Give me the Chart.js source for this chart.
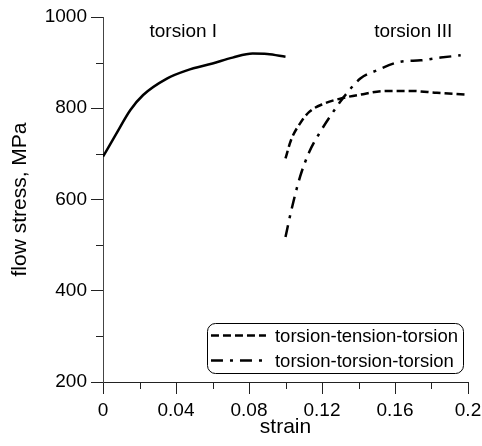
<!DOCTYPE html>
<html>
<head>
<meta charset="utf-8">
<script src="https://cdn.jsdelivr.net/npm/chart.js@4/dist/chart.umd.min.js"></script>
<style>
  body { margin: 0; background: #fff; }
  canvas { display: block; }
</style>
</head>
<body>
<canvas id="flow" width="482" height="446"></canvas>
<script>
// values
const strainI = [0, 0.007, 0.015, 0.022, 0.035, 0.046, 0.06, 0.071, 0.082, 0.09, 0.1];
const stressI = [694, 742, 796, 829, 865, 883, 898, 911, 920, 919, 913];

const strainTens = [0.1, 0.103, 0.108, 0.113, 0.121, 0.13, 0.141, 0.155, 0.168, 0.183, 0.199];
const stressTens = [690, 730, 767, 792, 810, 821, 830, 838, 838, 834, 830];

const strainTors = [0.1, 0.103, 0.108, 0.113, 0.119, 0.128, 0.132, 0.141, 0.15, 0.163, 0.174, 0.185, 0.196];
const stressTors = [518, 573, 650, 704, 748, 803, 825, 865, 883, 902, 905, 911, 916];

const xTicks = [0, 0.02, 0.04, 0.06, 0.08, 0.1, 0.12, 0.14, 0.16, 0.18, 0.2];
const xTickLabels = ['0', '', '0.04', '', '0.08', '', '0.12', '', '0.16', '', '0.2'];
const yTicks = [200, 300, 400, 500, 600, 700, 800, 900, 1000];
const yTickLabels = ['200', '', '400', '', '600', '', '800', '', '1000'];

const notes = [
    { text: 'torsion I', x: 0.044, y: 956 },
    { text: 'torsion III', x: 0.170, y: 956 }
];

function pts(xs, ys) {
    return xs.map((x, i) => ({ x: x, y: ys[i] }));
}

Chart.defaults.font.family = 'Arial, "Liberation Sans", sans-serif';
Chart.defaults.color = '#000';

const DASH = [8, 4];
const DASHDOT = [12, 7, 3, 7];

// short minor ticks, text notes and the boxed legend
const extras = {
    id: 'extras',
    afterDraw(chart) {
        const ctx = chart.ctx;
        const a = chart.chartArea;
        const xs = chart.scales.x, ys = chart.scales.y;
        ctx.save();
        ctx.strokeStyle = '#222';
        ctx.lineWidth = 1;
        ctx.beginPath();
        xTicks.forEach((v, i) => {
            if (xTickLabels[i] !== '') return;
            const px = Math.round(xs.getPixelForValue(v)) + 0.5;
            ctx.moveTo(px, a.bottom);
            ctx.lineTo(px, a.bottom + 7);
        });
        yTicks.forEach((v, i) => {
            if (yTickLabels[i] !== '') return;
            const py = Math.round(ys.getPixelForValue(v)) + 0.5;
            ctx.moveTo(a.left - 7, py);
            ctx.lineTo(a.left, py);
        });
        ctx.stroke();

        ctx.font = '19px Arial, "Liberation Sans", sans-serif';
        ctx.fillStyle = '#000';
        ctx.textAlign = 'center';
        ctx.textBaseline = 'alphabetic';
        notes.forEach(n => {
            ctx.fillText(n.text, xs.getPixelForValue(n.x), ys.getPixelForValue(n.y));
        });

        // legend
        const items = chart.data.datasets.filter(d => d.inLegend);
        ctx.font = '18.5px Arial, "Liberation Sans", sans-serif';
        const tw = Math.max(...items.map(d => ctx.measureText(d.label).width));
        const lineW = 55, rowH = 25;
        const w = 4 + lineW + 9 + tw + 5;
        const h = items.length * rowH;
        const right = a.right - 5, bottom = a.bottom - 9;
        const left = right - w, top = bottom - h;
        ctx.beginPath();
        ctx.roundRect(Math.round(left) + 0.5, Math.round(top) + 0.5, Math.round(w), Math.round(h), 8);
        ctx.strokeStyle = '#000';
        ctx.lineWidth = 1;
        ctx.stroke();
        ctx.textAlign = 'left';
        ctx.textBaseline = 'middle';
        items.forEach((d, i) => {
            const cy = top + rowH * i + rowH / 2;
            ctx.save();
            ctx.setLineDash(d.borderDash);
            ctx.lineWidth = d.borderWidth;
            ctx.beginPath();
            ctx.moveTo(left + 4, cy);
            ctx.lineTo(left + 4 + lineW, cy);
            ctx.stroke();
            ctx.restore();
            ctx.fillText(d.label, left + 4 + lineW + 9, cy + 1);
        });
        ctx.restore();
    }
};

new Chart(document.getElementById('flow'), {
    type: 'line',
    data: {
        datasets: [{
            label: 'torsion I',
            data: pts(strainI, stressI),
            borderColor: '#000',
            borderWidth: 2.5,
            borderDash: [],
            inLegend: false
        }, {
            label: 'torsion-tension-torsion',
            data: pts(strainTens, stressTens),
            borderColor: '#000',
            borderWidth: 2.5,
            borderDash: DASH,
            inLegend: true
        }, {
            label: 'torsion-torsion-torsion',
            data: pts(strainTors, stressTors),
            borderColor: '#000',
            borderWidth: 2.5,
            borderDash: DASHDOT,
            inLegend: true
        }]
    },
    options: {
        responsive: false,
        animation: false,
        layout: { padding: { left: 0, top: 17, right: 14, bottom: 0 } },
        elements: {
            point: { radius: 0 },
            line: { cubicInterpolationMode: 'monotone', fill: false }
        },
        plugins: {
            legend: { display: false },
            tooltip: { enabled: false }
        },
        scales: {
            x: {
                type: 'linear',
                min: 0,
                max: 0.2,
                afterBuildTicks: s => { s.ticks = xTicks.map(v => ({ value: v })); },
                afterFit: s => { s.height = 64; s.paddingLeft = 0; s.paddingRight = 0; },
                grid: {
                    drawOnChartArea: false,
                    tickLength: 12,
                    tickColor: c => xTickLabels[c.index] === '' ? 'rgba(0,0,0,0)' : '#222'
                },
                border: { color: '#222', width: 1 },
                ticks: {
                    autoSkip: false,
                    maxRotation: 0,
                    padding: 5,
                    font: { size: 19 },
                    callback: (v, i) => xTickLabels[i]
                },
                title: {
                    display: true,
                    text: 'strain',
                    font: { size: 21 },
                    padding: { top: 0, bottom: 6 }
                }
            },
            y: {
                type: 'linear',
                min: 200,
                max: 1000,
                afterBuildTicks: s => { s.ticks = yTicks.map(v => ({ value: v })); },
                afterFit: s => { s.width = 103; },
                grid: {
                    drawOnChartArea: false,
                    tickLength: 12,
                    tickColor: c => yTickLabels[c.index] === '' ? 'rgba(0,0,0,0)' : '#222'
                },
                border: { color: '#444', width: 1 },
                ticks: {
                    autoSkip: false,
                    padding: 4,
                    font: { size: 19 },
                    callback: (v, i) => yTickLabels[i]
                },
                title: {
                    display: true,
                    text: 'flow stress, MPa',
                    font: { size: 21 },
                    padding: { top: 8, bottom: 0 }
                }
            }
        }
    },
    plugins: [extras]
});
</script>
</body>
</html>
